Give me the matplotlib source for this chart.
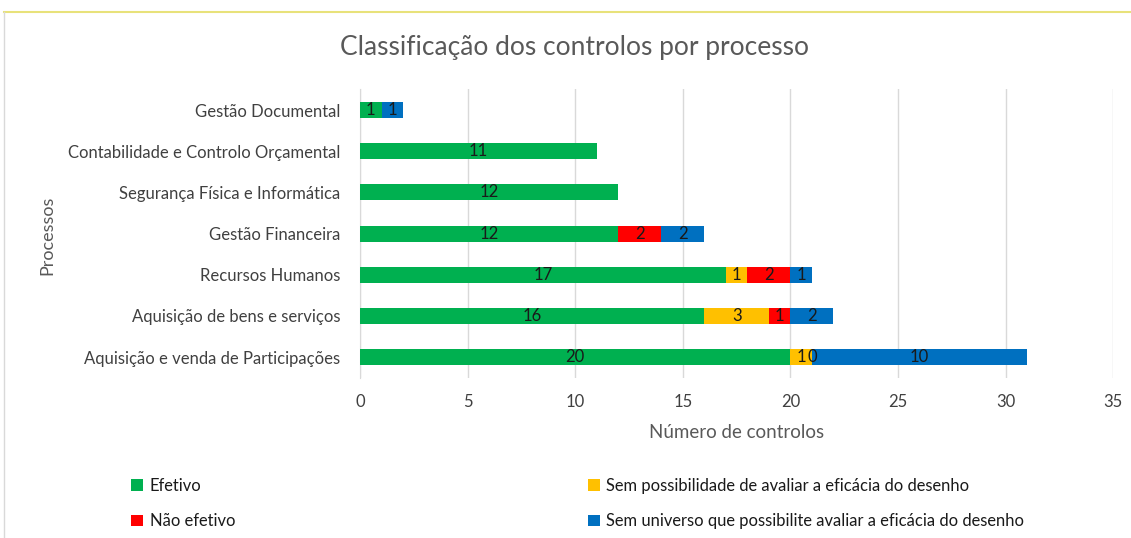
import matplotlib.pyplot as plt
import numpy as np
from matplotlib.lines import Line2D

plt.rcParams['font.family'] = ['Lato', 'DejaVu Sans']

# dados (de baixo para cima)
processos = ['Aquisição e venda de Participações', 'Aquisição de bens e serviços',
             'Recursos Humanos', 'Gestão Financeira', 'Segurança Física e Informática',
             'Contabilidade e Controlo Orçamental', 'Gestão Documental']
efetivo = [20, 16, 17, 12, 12, 11, 1]
sem_possibilidade = [1, 3, 1, np.nan, np.nan, np.nan, np.nan]
nao_efetivo = [0, 1, 2, 2, np.nan, np.nan, np.nan]
sem_universo = [10, 2, 1, 2, np.nan, np.nan, 1]

series = [
    ('Efetivo', efetivo, '#00B050'),
    ('Sem possibilidade de avaliar a eficácia do desenho', sem_possibilidade, '#FFC000'),
    ('Não efetivo', nao_efetivo, '#FF0000'),
    ('Sem universo que possibilite avaliar a eficácia do desenho', sem_universo, '#0070C0'),
]

fig = plt.figure(figsize=(11.31, 5.38), dpi=100)
ax = fig.add_axes([0.3183, 0.298, 0.666, 0.5357])

y = np.arange(len(processos))
left = np.zeros(len(processos))
handles = {}
for nome, vals, cor in series:
    v = np.array(vals, dtype=float)
    w = np.nan_to_num(v)
    bars = ax.barh(y, w, left=left, height=0.39, color=cor, label=nome, zorder=3)
    handles[nome] = bars
    for i in range(len(v)):
        if not np.isnan(v[i]):
            ax.text(left[i] + w[i] / 2, y[i], f'{int(v[i])}', ha='center', va='center',
                    fontsize=12, color='#1a1a1a', zorder=4)
    left = left + w

ax.set_xlim(0, 35)
ax.set_ylim(-0.5, len(processos) - 0.5)
ax.set_xticks(np.arange(0, 36, 5))
ax.set_yticks(y)
ax.set_yticklabels(processos)
ax.tick_params(axis='both', length=0, labelsize=12, colors='#404040')
ax.tick_params(axis='x', pad=12)
ax.tick_params(axis='y', pad=14)
ax.grid(axis='x', color='#D9D9D9', linewidth=1, zorder=0)
for s in ['top', 'right', 'bottom']:
    ax.spines[s].set_visible(False)
ax.spines['left'].set_color('#D9D9D9')

ax.set_xlabel('Número de controlos', fontsize=13.5, color='#595959', labelpad=10)
fig.text(0.042, 0.563, 'Processos', rotation=90, fontsize=13, color='#595959',
         ha='center', va='center')
fig.suptitle('Classificação dos controlos por processo', x=0.508, y=0.935,
             fontsize=19, color='#595959')

# legenda em duas colunas
leg_kw = dict(loc='center left', frameon=False, fontsize=11.9, handlelength=0.7,
              handleheight=0.7, handletextpad=0.4, labelspacing=1.15,
              labelcolor='#1a1a1a')
col1 = ['Efetivo', 'Não efetivo']
col2 = ['Sem possibilidade de avaliar a eficácia do desenho',
        'Sem universo que possibilite avaliar a eficácia do desenho']
fig.legend([handles[n] for n in col1], col1, bbox_to_anchor=(0.103, 0.064), **leg_kw)
fig.legend([handles[n] for n in col2], col2, bbox_to_anchor=(0.507, 0.064), **leg_kw)

# moldura
fig.add_artist(Line2D([0.0035, 1.0], [0.978, 0.978], color='#E8E27A', linewidth=1.5))
fig.add_artist(Line2D([0.0035, 0.0035], [0.0, 0.978], color='#D9D9D9', linewidth=1))

fig.savefig('out.png', dpi=100)
